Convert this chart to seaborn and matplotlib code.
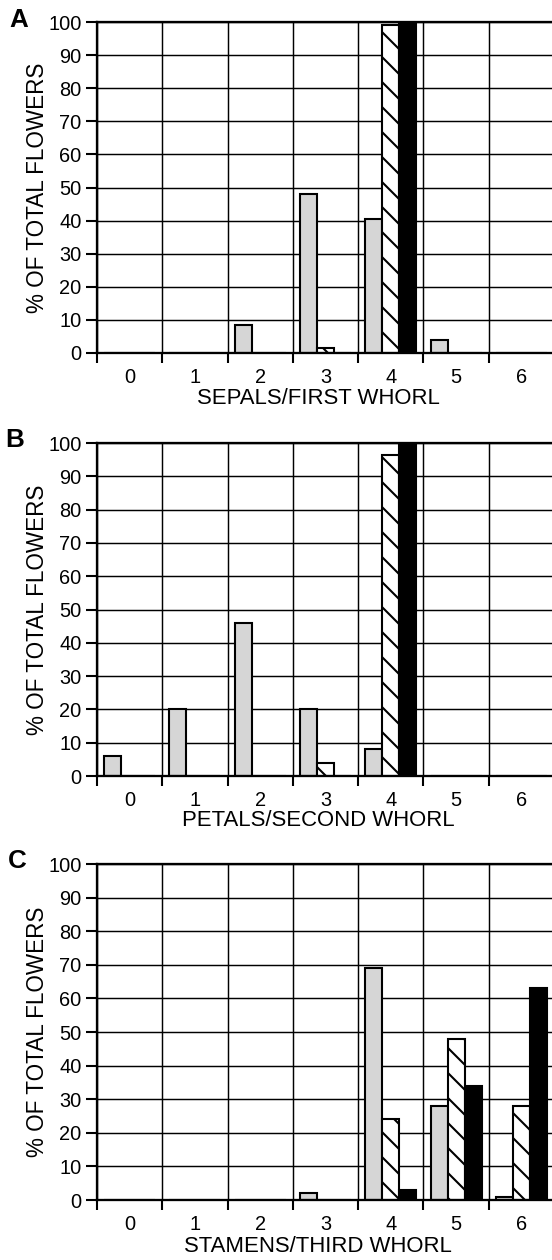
import numpy as np
import pandas as pd
import matplotlib
matplotlib.use("Agg")
import matplotlib.pyplot as plt
import seaborn as sns

# ---- data ----
counts = ["0", "1", "2", "3", "4", "5", "6"]
series = ["gray", "hatched", "black"]

sepals_gray = [0, 0, 8.5, 48, 40.5, 4, 0]
sepals_hatched = [0, 0, 0, 1.5, 99, 0, 0]
sepals_black = [0, 0, 0, 0, 100, 0, 0]

petals_gray = [6, 20, 46, 20, 8, 0, 0]
petals_hatched = [0, 0, 0, 4, 96.5, 0, 0]
petals_black = [0, 0, 0, 0, 100, 0, 0]

stamens_gray = [0, 0, 0, 2, 69, 28, 1]
stamens_hatched = [0, 0, 0, 0, 24, 48, 28]
stamens_black = [0, 0, 0, 0, 3, 34, 63]

panel_letters = ["A", "B", "C"]
xlabels = ["SEPALS/FIRST WHORL", "PETALS/SECOND WHORL", "STAMENS/THIRD WHORL"]
ylabel = "% OF TOTAL FLOWERS"
yticks = list(range(0, 101, 10))

panels = [
    (sepals_gray, sepals_hatched, sepals_black),
    (petals_gray, petals_hatched, petals_black),
    (stamens_gray, stamens_hatched, stamens_black),
]

# ---- style ----
sns.set_theme(style="white")
plt.rcParams["font.family"] = ["Liberation Sans", "DejaVu Sans"]
plt.rcParams["hatch.linewidth"] = 1.0
plt.rcParams["hatch.color"] = "black"

DPI = 150
W, H = 552, 1260
fig = plt.figure(figsize=(W / DPI, H / DPI), dpi=DPI)

left_px, right_px = 97, 554
# (top px, zero-line px) for each panel
rows = [(22, 353), (443, 776), (864, 1200)]
xlabel_offsets = [45, 44, 47]
letter_pos = [(19, 20), (15, 440), (17, 861)]

palette = {"gray": "#d6d6d6", "hatched": "white", "black": "black"}

for i, (vals, (top, bot)) in enumerate(zip(panels, rows)):
    ax = fig.add_axes([left_px / W, 1 - bot / H,
                       (right_px - left_px) / W, (bot - top) / H])
    df = pd.DataFrame({
        "count": counts * 3,
        "series": sum([[s] * len(counts) for s in series], []),
        "pct": list(vals[0]) + list(vals[1]) + list(vals[2]),
    })
    sns.barplot(data=df, x="count", y="pct", hue="series", order=counts,
                hue_order=series, palette=palette, saturation=1, width=0.78,
                edgecolor="black", linewidth=1.0, legend=False, ax=ax,
                errorbar=None)
    for cont, s in zip(ax.containers, series):
        for p in cont:
            if s == "hatched":
                p.set_hatch("\\\\")
            p.set_edgecolor("black")

    ax.set_xlim(-0.5, 6.5)
    ax.set_ylim(0, 100)
    ax.set_axisbelow(True)

    ax.set_yticks(yticks)
    ax.set_yticklabels([str(t) for t in yticks], fontsize=9.6)
    ax.set_xticks(range(len(counts)))
    ax.set_xticklabels(counts, fontsize=9.6)
    ax.set_xticks(np.arange(-0.5, 7.0, 1.0), minor=True)

    ax.tick_params(axis="x", which="major", bottom=True, length=0, pad=7.0,
                   colors="black")
    ax.tick_params(axis="x", which="minor", bottom=True, length=4.8,
                   width=1.0, direction="out", color="black")
    ax.tick_params(axis="y", which="major", left=True, length=5.3, width=1.0,
                   direction="out", pad=2.2, colors="black")

    ax.grid(False)
    ax.grid(True, axis="y", which="major", color="black", linewidth=0.7)
    ax.grid(True, axis="x", which="minor", color="black", linewidth=0.7)

    for side in ["left", "bottom", "top", "right"]:
        ax.spines[side].set_visible(True)
        ax.spines[side].set_color("black")
        ax.spines[side].set_linewidth(1.1)

    ax.set_xlabel(xlabels[i], fontsize=10.6, color="black")
    ax.xaxis.label.set_va("center")
    hpx = bot - top
    ax.xaxis.set_label_coords((318 - left_px) / (right_px - left_px),
                              -xlabel_offsets[i] / hpx)

    ax.set_ylabel(ylabel, fontsize=10.8, color="black")
    ax.yaxis.label.set_va("center")
    ax.yaxis.set_label_coords((37 - left_px) / (right_px - left_px), 0.5)

    lx, ly = letter_pos[i]
    fig.text(lx / W, 1 - ly / H, panel_letters[i], fontsize=12.5,
             fontweight="bold", ha="center", va="center", color="black")

fig.savefig("out.png", dpi=DPI)
